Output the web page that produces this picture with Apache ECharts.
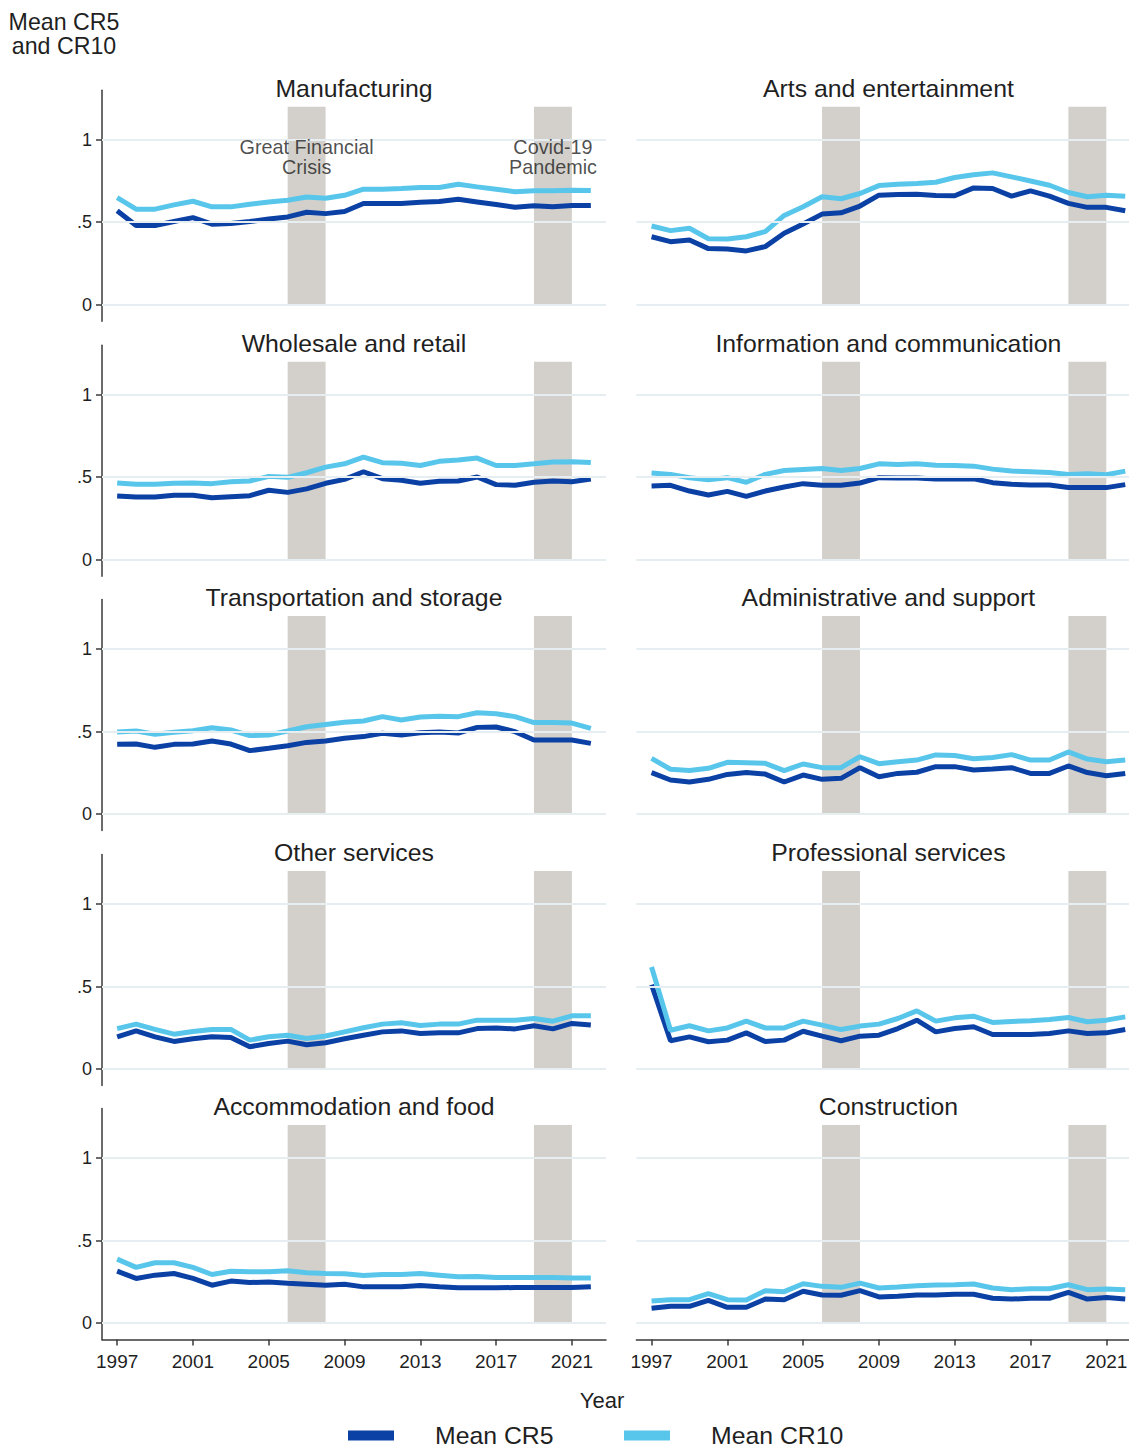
<!DOCTYPE html>
<html>
<head>
<meta charset="utf-8">
<script src="https://cdn.jsdelivr.net/npm/echarts@6/dist/echarts.min.js"></script>
<style>
  html, body { margin: 0; padding: 0; background: #ffffff; overflow: hidden; }
  #chart { width: 1129px; height: 1450px; }
</style>
</head>
<body>
<div id="chart"></div>
<script>
// Years covered by every panel
const years = [1997, 1998, 1999, 2000, 2001, 2002, 2003, 2004, 2005, 2006, 2007, 2008, 2009,
               2010, 2011, 2012, 2013, 2014, 2015, 2016, 2017, 2018, 2019, 2020, 2021, 2022];
const yearTicks = [1997, 2001, 2005, 2009, 2013, 2017, 2021];
const shareTicks = [0, 0.5, 1];

// Shaded episodes: [start year, end year]
const gfcBand = [2006, 2008];
const covidBand = [2019, 2021];
const bandTop = 1.2;
const eventLabels = ['Great Financial\nCrisis', 'Covid-19\nPandemic'];
const eventLabelYears = [2007, 2020];
const eventLabelLevel = 0.895;

const sectorNames = [
  'Manufacturing', 'Arts and entertainment',
  'Wholesale and retail', 'Information and communication',
  'Transportation and storage', 'Administrative and support',
  'Other services', 'Professional services',
  'Accommodation and food', 'Construction'
];

// Mean CR5 / CR10 by sector
const manufacturingCR5  = [0.569,0.480,0.480,0.504,0.528,0.488,0.492,0.504,0.520,0.532,0.560,0.552,0.565,0.613,0.613,0.613,0.621,0.625,0.639,0.623,0.607,0.591,0.599,0.593,0.601,0.601];
const manufacturingCR10 = [0.649,0.579,0.579,0.605,0.627,0.593,0.593,0.609,0.623,0.633,0.653,0.645,0.663,0.700,0.700,0.704,0.710,0.710,0.730,0.714,0.700,0.685,0.690,0.690,0.694,0.692];

const artsCR5  = [0.412,0.382,0.392,0.340,0.338,0.326,0.352,0.433,0.489,0.549,0.557,0.598,0.664,0.668,0.670,0.662,0.660,0.708,0.704,0.658,0.690,0.658,0.614,0.590,0.590,0.569];
const artsCR10 = [0.477,0.449,0.463,0.400,0.398,0.412,0.443,0.541,0.594,0.654,0.642,0.674,0.722,0.730,0.734,0.742,0.771,0.787,0.799,0.775,0.750,0.724,0.680,0.654,0.664,0.658];

const wholesaleCR5  = [0.386,0.380,0.380,0.390,0.390,0.376,0.382,0.388,0.421,0.408,0.429,0.463,0.487,0.533,0.491,0.481,0.463,0.475,0.477,0.501,0.455,0.451,0.469,0.477,0.473,0.489];
const wholesaleCR10 = [0.465,0.457,0.457,0.463,0.465,0.461,0.473,0.477,0.505,0.499,0.527,0.561,0.581,0.622,0.588,0.584,0.571,0.596,0.604,0.616,0.571,0.571,0.581,0.592,0.594,0.589];

const infoCommCR5  = [0.447,0.451,0.416,0.392,0.414,0.384,0.416,0.441,0.461,0.451,0.451,0.465,0.497,0.495,0.495,0.489,0.489,0.491,0.467,0.457,0.453,0.453,0.437,0.437,0.437,0.455];
const infoCommCR10 = [0.525,0.517,0.497,0.485,0.497,0.469,0.517,0.541,0.547,0.553,0.541,0.553,0.581,0.577,0.581,0.573,0.571,0.567,0.549,0.537,0.533,0.529,0.517,0.521,0.515,0.537];

const transportCR5  = [0.422,0.424,0.404,0.422,0.424,0.442,0.424,0.384,0.398,0.414,0.434,0.442,0.459,0.469,0.489,0.479,0.493,0.497,0.491,0.525,0.527,0.499,0.448,0.448,0.448,0.428];
const transportCR10 = [0.497,0.503,0.483,0.495,0.505,0.523,0.509,0.475,0.479,0.503,0.529,0.543,0.556,0.564,0.590,0.570,0.588,0.592,0.590,0.614,0.608,0.590,0.554,0.554,0.551,0.519];

const adminCR5  = [0.251,0.206,0.194,0.210,0.240,0.251,0.242,0.194,0.236,0.210,0.216,0.281,0.226,0.246,0.253,0.287,0.287,0.267,0.273,0.281,0.246,0.246,0.291,0.251,0.232,0.246];
const adminCR10 = [0.337,0.271,0.263,0.277,0.313,0.311,0.307,0.263,0.303,0.281,0.281,0.347,0.305,0.317,0.327,0.358,0.354,0.335,0.343,0.360,0.327,0.327,0.376,0.333,0.317,0.327];

const otherCR5  = [0.195,0.231,0.195,0.167,0.183,0.195,0.191,0.135,0.155,0.169,0.147,0.159,0.183,0.205,0.225,0.231,0.215,0.219,0.219,0.245,0.249,0.243,0.262,0.243,0.276,0.266];
const otherCR10 = [0.245,0.272,0.240,0.211,0.227,0.240,0.240,0.175,0.195,0.205,0.185,0.200,0.225,0.250,0.272,0.280,0.264,0.272,0.272,0.296,0.296,0.296,0.306,0.290,0.322,0.322];

const professionalCR5  = [0.511,0.171,0.195,0.165,0.175,0.219,0.167,0.175,0.229,0.199,0.171,0.199,0.205,0.245,0.296,0.225,0.245,0.256,0.209,0.209,0.209,0.215,0.231,0.215,0.219,0.239];
const professionalCR10 = [0.618,0.235,0.262,0.231,0.249,0.290,0.249,0.249,0.290,0.266,0.239,0.260,0.272,0.306,0.352,0.290,0.310,0.320,0.282,0.288,0.292,0.300,0.312,0.286,0.296,0.316];

const accommodationCR5  = [0.314,0.270,0.290,0.300,0.270,0.229,0.254,0.245,0.249,0.241,0.235,0.229,0.235,0.219,0.219,0.219,0.227,0.219,0.213,0.213,0.213,0.215,0.215,0.215,0.215,0.219];
const accommodationCR10 = [0.387,0.337,0.365,0.365,0.337,0.294,0.314,0.310,0.310,0.316,0.304,0.300,0.298,0.288,0.294,0.294,0.300,0.290,0.280,0.282,0.276,0.276,0.276,0.276,0.272,0.272];

const constructionCR5  = [0.089,0.101,0.101,0.137,0.095,0.095,0.145,0.141,0.192,0.170,0.168,0.196,0.158,0.162,0.170,0.170,0.174,0.174,0.150,0.145,0.150,0.150,0.186,0.145,0.154,0.145];
const constructionCR10 = [0.133,0.141,0.141,0.178,0.141,0.139,0.196,0.190,0.238,0.222,0.216,0.242,0.212,0.218,0.226,0.230,0.232,0.236,0.212,0.202,0.208,0.208,0.232,0.202,0.206,0.202];

const cr5BySector = [manufacturingCR5, artsCR5, wholesaleCR5, infoCommCR5, transportCR5,
                     adminCR5, otherCR5, professionalCR5, accommodationCR5, constructionCR5];
const cr10BySector = [manufacturingCR10, artsCR10, wholesaleCR10, infoCommCR10, transportCR10,
                      adminCR10, otherCR10, professionalCR10, accommodationCR10, constructionCR10];

// ---- layout & style ----
const FONT = '"Liberation Sans", Arial, "DejaVu Sans", sans-serif';
const TEXT = '#1f1f1f';
const AXIS = '#3a3a3a';
const DARK = '#0B40A4';
const LIGHT = '#58C6EB';
const GRIDLINE = '#E7EEF2';
const BAND = '#D3D0CB';

const X_MIN = 1996.2, X_MAX = 2022.8;
const Y_MIN = -0.1, Y_MAX = 1.3;
const colLeft = [102, 636.4];
const plotWidth = 504;
const rowZero = [304.7, 559.7, 814, 1069, 1323];
const pxPerUnit = 165;

const grids = [], xAxes = [], yAxes = [], series = [], graphics = [];

sectorNames.forEach((name, i) => {
  const row = Math.floor(i / 2), col = i % 2;
  const top = rowZero[row] - Y_MAX * pxPerUnit;
  const height = (Y_MAX - Y_MIN) * pxPerUnit;
  // the right-hand column runs slightly past the page edge
  grids.push({ left: colLeft[col], top: top, width: plotWidth, height: height,
               containLabel: false, outerBoundsMode: 'none' });

  const bottomRow = row === 4;
  xAxes.push({
    gridIndex: i, type: 'value', min: X_MIN, max: X_MAX,
    axisLine: { show: bottomRow, onZero: false, lineStyle: { color: AXIS, width: 1.5 } },
    axisTick: { show: bottomRow, customValues: yearTicks, length: 6, lineStyle: { color: AXIS, width: 1.5 } },
    axisLabel: { show: bottomRow, customValues: yearTicks, formatter: v => String(v),
                 fontFamily: FONT, fontSize: 19, color: TEXT, margin: 12, hideOverlap: false },
    splitLine: { show: false }
  });

  const leftCol = col === 0;
  yAxes.push({
    gridIndex: i, type: 'value', min: Y_MIN, max: Y_MAX,
    axisLine: { show: leftCol, onZero: false, lineStyle: { color: AXIS, width: 1.5 } },
    axisTick: { show: leftCol, customValues: shareTicks, length: 6, lineStyle: { color: AXIS, width: 1.5 } },
    axisLabel: { show: leftCol, customValues: shareTicks,
                 formatter: v => (v === 0 ? '0' : v === 1 ? '1' : String(v).replace(/^0\./, '.')),
                 fontFamily: FONT, fontSize: 18, color: TEXT, margin: 10 },
    splitLine: { show: false }
  });

  // horizontal reference lines
  series.push({
    type: 'line', xAxisIndex: i, yAxisIndex: i, data: [], silent: true, z: 1,
    markLine: {
      silent: true, symbol: 'none', animation: false,
      label: { show: false },
      lineStyle: { color: GRIDLINE, width: 2, type: 'solid' },
      data: shareTicks.map(v => ({ yAxis: v }))
    }
  });

  // recession / pandemic shading
  series.push({
    type: 'line', xAxisIndex: i, yAxisIndex: i, data: [], silent: true, z: 2,
    markArea: {
      silent: true, animation: false,
      itemStyle: { color: BAND, opacity: 1 },
      data: [gfcBand, covidBand].map(b => [{ coord: [b[0], 0] }, { coord: [b[1], bandTop] }])
    }
  });

  series.push({
    name: 'Mean CR5', type: 'line', xAxisIndex: i, yAxisIndex: i, z: 3,
    data: years.map((y, k) => [y, cr5BySector[i][k]]),
    showSymbol: false, symbol: 'none', color: DARK,
    lineStyle: { color: DARK, width: 5 }
  });
  series.push({
    name: 'Mean CR10', type: 'line', xAxisIndex: i, yAxisIndex: i, z: 4,
    data: years.map((y, k) => [y, cr10BySector[i][k]]),
    showSymbol: false, symbol: 'none', color: LIGHT,
    lineStyle: { color: LIGHT, width: 5 }
  });

  // panel title
  graphics.push({
    type: 'text',
    x: colLeft[col] + plotWidth / 2, y: rowZero[row] - 216.7,
    style: { text: name, font: '24.8px ' + FONT, fill: TEXT, align: 'center', verticalAlign: 'middle' }
  });
});

// event annotations in the first panel
series.push({
  type: 'scatter', xAxisIndex: 0, yAxisIndex: 0, z: 5, silent: true,
  symbolSize: 0,
  data: eventLabels.map((t, k) => ({ name: t, value: [eventLabelYears[k], eventLabelLevel] })),
  label: {
    show: true, position: 'inside', formatter: p => p.name,
    fontFamily: FONT, fontSize: 19.8, lineHeight: 20, color: TEXT, align: 'center'
  }
});

graphics.push(
  { type: 'text', x: 64, y: 34,
    style: { text: 'Mean CR5\nand CR10', font: '23.2px ' + FONT, lineHeight: 24, fill: TEXT,
             align: 'center', verticalAlign: 'middle' } },
  { type: 'text', x: 602, y: 1400,
    style: { text: 'Year', font: '22px ' + FONT, fill: TEXT, align: 'center', verticalAlign: 'middle' } }
);

const legendBase = {
  icon: 'rect', itemWidth: 46, itemHeight: 10, selectedMode: false, top: 1418,
  textStyle: { fontFamily: FONT, fontSize: 24.8, lineHeight: 25, color: TEXT, padding: [0, 0, 0, 36] }
};

const chart = echarts.init(document.getElementById('chart'), null, { renderer: 'svg' });
chart.setOption({
  animation: false,
  backgroundColor: '#ffffff',
  grid: grids,
  xAxis: xAxes,
  yAxis: yAxes,
  series: series,
  legend: [
    Object.assign({}, legendBase, { data: ['Mean CR5'], left: 343 }),
    Object.assign({}, legendBase, { data: ['Mean CR10'], left: 619 })
  ],
  graphic: { elements: graphics }
});
</script>
</body>
</html>
